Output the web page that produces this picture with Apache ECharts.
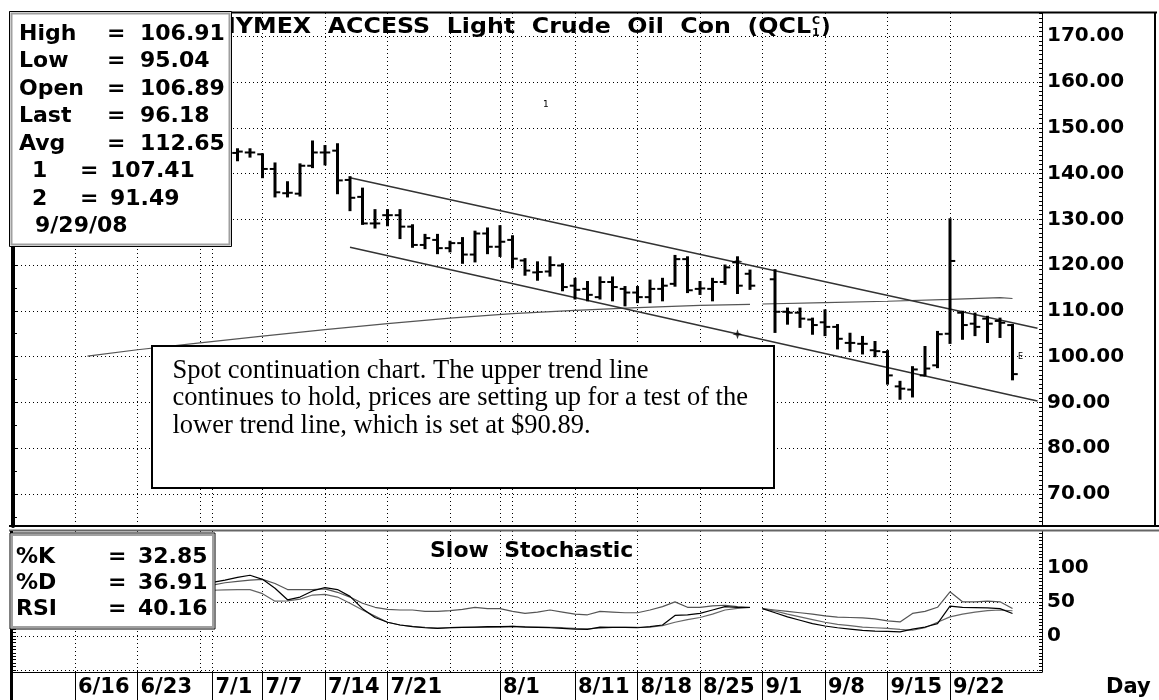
<!DOCTYPE html>
<html>
<head>
<meta charset="utf-8">
<script src="https://cdn.jsdelivr.net/npm/echarts@6/dist/echarts.min.js"></script>
<style>
html, body { margin: 0; padding: 0; background: #fff; }
#main { width: 1159px; height: 700px; }
</style>
</head>
<body>
<div id="main"></div>
<script>
// daily bars (the ones left of 7/3 sit under the info box)
var barDays = ['7/3','7/4','7/7','7/8','7/9','7/10','7/11','7/14','7/15','7/16','7/17','7/18',
  '7/21','7/22','7/23','7/24','7/25','7/28','7/29','7/30','7/31','8/1','8/4','8/5','8/6','8/7','8/8',
  '8/11','8/12','8/13','8/14','8/15','8/18','8/19','8/20','8/21','8/22','8/25','8/26','8/27','8/28','8/29',
  '9/2','9/3','9/4','9/5','9/8','9/9','9/10','9/11','9/12','9/15','9/16','9/17','9/18','9/19',
  '9/22','9/23','9/24','9/25','9/26','9/29'];
var barOpen = [144.5,144.6,144.2,141.0,135.7,135.6,141.7,144.6,145.0,138.6,134.9,129.1,
  130.9,130.9,128.4,124.4,125.5,123.7,124.8,122.3,126.9,124.0,125.5,121.0,118.4,118.6,119.9,
  115.5,114.8,113.0,116.3,114.8,114.0,113.0,114.8,115.9,121.3,114.8,114.8,116.3,120.6,118.1,
  116.9,109.8,109.6,108.1,107.5,106.5,103.0,102.8,101.4,101.0,93.5,92.8,95.9,98.1,
  105.0,109.6,107.2,108.3,107.8,106.89];
var barHigh = [145.3,145.3,144.2,142.2,138.1,142.0,147.0,146.0,146.4,139.2,136.7,132.0,
  132.0,132.0,128.7,126.6,126.6,125.1,125.9,127.3,128.0,128.5,126.3,121.3,120.6,121.7,120.2,
  117.0,116.3,117.3,117.3,115.2,115.2,116.6,117.0,122.0,121.7,116.3,117.0,119.9,121.7,118.8,
  118.9,110.5,110.5,108.3,110.1,106.9,105.0,104.3,103.2,101.2,94.5,97.7,102.1,105.4,
  130.0,109.8,109.4,108.7,108.3,106.91];
var barLow = [142.9,143.7,139.2,135.0,135.0,135.2,141.4,142.0,135.7,132.0,129.0,128.2,
  128.7,125.9,124.0,123.7,122.6,123.0,120.5,120.8,122.6,122.0,119.5,117.9,116.8,117.7,114.5,
  112.7,112.3,112.7,112.3,111.2,111.9,111.9,112.3,115.5,114.1,113.7,112.3,115.9,113.9,114.8,
  105.4,107.2,106.5,105.0,104.7,101.8,101.2,100.7,100.1,94.1,90.8,91.3,95.9,97.7,
  103.0,103.9,104.7,103.2,104.3,95.04];
var barClose = [144.8,144.6,141.0,135.9,135.8,141.7,144.6,144.6,138.5,134.7,129.1,129.1,
  130.9,128.4,124.4,125.9,123.7,124.8,122.3,126.9,124.0,125.1,121.4,118.8,118.5,120.0,115.2,
  114.6,113.5,116.3,115.2,114.0,113.0,114.8,115.5,121.3,114.5,114.9,116.3,119.5,115.5,115.5,
  109.8,109.6,108.3,106.9,106.5,103.9,103.0,102.8,101.2,95.9,93.0,97.2,97.4,104.9,
  120.9,106.9,106.5,107.2,107.4,96.18];

// moving average, broken at the 9/1 holiday
var maDaysA = ['6/17','6/23','6/30','7/7','7/14','7/21','7/28','8/4','8/11','8/18','8/25','8/29'];
var maA = [100.1,101.5,103.0,104.5,105.9,107.2,108.4,109.4,110.1,110.7,111.2,111.4];
var maDaysB = ['9/1','9/8','9/15','9/22','9/26','9/29'];
var maB = [111.5,111.8,112.1,112.5,112.9,112.7];

// trend lines 1 and 2
var trendDays = ['7/16','9/29','10/1'];
var trendUpper = [139.1,107.41,106.2];
var trendLower = [123.9,91.49,90.3];
var markDays = ['8/28','8/28'];
var markValues = [120.8,104.9];

// slow stochastic + RSI
var stochDaysA = ['7/1','7/2','7/3','7/4','7/7','7/8','7/9','7/10','7/11','7/14','7/15','7/16','7/17','7/18',
  '7/21','7/22','7/23','7/24','7/25','7/28','7/29','7/30','7/31','8/1','8/4','8/5','8/6','8/7','8/8',
  '8/11','8/12','8/13','8/14','8/15','8/18','8/19','8/20','8/21','8/22','8/25','8/26','8/27','8/28','8/29'];
var kA = [78.5,82,86,89,83,70,53,57,66,71,68,58,40,27,20,16,13.5,12,11,12,12.5,13,13.5,13.5,
  14,13,12.5,12,11,10,9.6,13,12.5,12.5,12,13.5,16,30,31,33,38,43,42,41.7];
var dA = [67,67.5,68,68,62,51,51.5,54,60,61,57,48,38,29,20,16,14,12.5,11.5,12,12.5,12.5,12.5,13,
  14,13.5,13,12.5,12,11,10.5,11.5,12.5,12.5,12.5,13,15,20,24,27,32,38,40.5,41.7];
var rsiA = [74.6,78,80,82,83,77,68,68,68,69,64,57,48,42,39,38,38,36,36,37,39,42,40,40,
  36,33,35,38,35,32,31,36,35,34,34,38,43,50,42,42,44,45,43,42];
var stochDaysB = ['9/1','9/2','9/3','9/4','9/5','9/8','9/9','9/10','9/11','9/12','9/15','9/16','9/17','9/18','9/19',
  '9/22','9/23','9/24','9/25','9/26','9/29'];
var kB = [40,34,28,23,18,14.5,12,10,8,7,6.5,6,10,13,18,43.6,42,41.5,41,40,32.85];
var dB = [40,36.5,32,28,24,20,17,15,13,12,11,9.5,8.3,12,20,28,32,35,37,38,36.91];
var rsiB = [40,38,36,34,32,29.5,27.5,27,26.5,25,22,20.5,33,36,42,64.7,50,50,51,50,40.16];

// axes
var gridDays = ['6/16','6/23','6/30','7/1','7/7','7/14','7/21','7/28','8/1','8/4','8/11','8/18','8/25','9/1','9/8','9/15','9/22'];
var labelDays = ['6/16','6/23','7/1','7/7','7/14','7/21','8/1','8/11','8/18','8/25','9/1','9/8','9/15','9/22'];
var priceTicks = [70,80,90,100,110,120,130,140,150,160,170];
var stochLabels = [0,50,100];
var stochGrid = [-50,0,50,100];

// info boxes
var infoNames = ['High','Low','Open','Last','Avg'];
var infoValues = ['106.91','95.04','106.89','96.18','112.65'];
var lineNames = ['1','2'];
var lineValues = ['107.41','91.49'];
var infoDate = '9/29/08';
var stochNames = ['%K','%D','RSI'];
var stochValues = ['32.85','36.91','40.16'];
var titleText = 'NYMEX  ACCESS  Light  Crude  Oil  Con  (QCL';
var noteText = 'Spot continuation chart. The upper trend line\ncontinues to hold, prices are setting up for a test of the\nlower trend line, which is set at $90.89.';

// weekday slot, 6/16/08 = 0
function slot(d) {
  var p = d.split('/');
  var days = Math.round((new Date(2008, +p[0] - 1, +p[1]) - new Date(2008, 5, 16)) / 864e5);
  return Math.floor(days / 7) * 5 + ((days % 7) + 7) % 7;
}
function pairs(days, vals) {
  return days.map(function (d, i) { return [slot(d), vals[i]]; });
}
function broken(daysA, a, daysB, b) {
  return pairs(daysA, a).concat([['-', '-']], pairs(daysB, b));
}
function range(a, b, s) { var r = []; for (var v = a; v <= b; v += s) r.push(v); return r; }

var FF = '"DejaVu Sans", sans-serif';
var bold = function (s) { return 'bold ' + s + 'px ' + FF; };
var dotted = { color: '#000', width: 1, type: [1, 3] };
var xMin = -4.96, xMax = 77.36;
var labelMap = {};
labelDays.forEach(function (d) { labelMap[slot(d)] = d; });

var bars = barDays.map(function (d, i) {
  return [slot(d), barOpen[i], barHigh[i], barLow[i], barClose[i]];
});

function renderBar(params, api) {
  var x = api.value(0);
  var hi = api.coord([x, api.value(2)]);
  var lo = api.coord([x, api.value(3)]);
  var op = api.coord([x, api.value(1)]);
  var cl = api.coord([x, api.value(4)]);
  var w = api.size([1, 0])[0] * 0.42;
  return { type: 'group', children: [
    { type: 'line', shape: { x1: hi[0], y1: hi[1] - 1, x2: lo[0], y2: lo[1] + 1 }, style: { stroke: '#000', lineWidth: 3 } },
    { type: 'line', shape: { x1: op[0] - w, y1: op[1], x2: op[0], y2: op[1] }, style: { stroke: '#000', lineWidth: 2 } },
    { type: 'line', shape: { x1: cl[0], y1: cl[1], x2: cl[0] + w, y2: cl[1] }, style: { stroke: '#000', lineWidth: 2 } }
  ] };
}

// title width, so the super/subscript land after "QCL"
var titleX = 216, titleScale = 1.13;
var ctx = document.createElement('canvas').getContext('2d');
ctx.font = bold(21);
var titleEnd = titleX + ctx.measureText(titleText).width * titleScale;

var g = [];
function txt(x, y, text, font, extra) {
  var el = { type: 'text', x: x, y: y, z: 110, style: { text: text, font: font, fill: '#000', verticalAlign: 'middle' } };
  if (extra) Object.assign(el.style, extra);
  g.push(el);
}
function hline(x1, x2, y, w, c) {
  g.push({ type: 'line', z: 90, shape: { x1: x1, y1: y, x2: x2, y2: y }, style: { stroke: c || '#000', lineWidth: w } });
}
function vline(x, y1, y2, w, c) {
  g.push({ type: 'line', z: 90, shape: { x1: x, y1: y1, x2: x, y2: y2 }, style: { stroke: c || '#000', lineWidth: w } });
}
function box(x, y, w, h) {
  g.push({ type: 'rect', z: 100, shape: { x: x, y: y, width: w, height: h }, style: { fill: '#fff', stroke: '#000', lineWidth: 1 } });
  g.push({ type: 'rect', z: 101, shape: { x: x + 2, y: y + 2, width: w - 4, height: h - 4 }, style: { fill: 'none', stroke: '#a0a0a0', lineWidth: 2 } });
}

// frame
hline(9, 1157, 12.5, 2);
vline(1155, 12, 526, 2);
hline(9, 1159, 526, 2);
hline(9, 1159, 530.5, 2, '#666');
vline(11.5, 531, 700, 3);

// title (partly hidden by the info box)
g.push({ type: 'text', x: titleX, y: 28, scaleX: titleScale, z: 50, style: { text: titleText, font: bold(21), fill: '#000', verticalAlign: 'middle' } });
g.push({ type: 'text', x: titleEnd + 1, y: 21, z: 50, style: { text: 'C', font: bold(11), fill: '#000', verticalAlign: 'middle' } });
g.push({ type: 'text', x: titleEnd + 1, y: 33, z: 50, style: { text: '1', font: bold(11), fill: '#000', verticalAlign: 'middle' } });
g.push({ type: 'text', x: titleEnd + 10, y: 28, z: 50, style: { text: ')', font: bold(21), fill: '#000', verticalAlign: 'middle' } });

// price info box
box(9.5, 11.5, 222, 235);
infoNames.forEach(function (n, i) {
  var y = 34 + i * 27.5;
  txt(19, y, n, bold(22));
  txt(107, y, '=', bold(22));
  txt(140, y, infoValues[i], bold(22));
});
lineNames.forEach(function (n, i) {
  var y = 171.5 + i * 27.5;
  txt(32, y, n, bold(22));
  txt(80, y, '=', bold(22));
  txt(110, y, lineValues[i], bold(22));
});
txt(35, 226.5, infoDate, bold(22));

// annotation
g.push({ type: 'rect', z: 100, shape: { x: 152, y: 346, width: 622, height: 142 }, style: { fill: '#fff', stroke: '#000', lineWidth: 2 } });
txt(172.5, 357, noteText, '26.5px "Liberation Serif", serif', { verticalAlign: 'top', lineHeight: 27.5 });

// small chart marks
txt(543, 105, '1', '9px ' + FF);
txt(1018, 357, 'E', '8px ' + FF);

// stochastic box
box(10, 533, 205, 96);
stochNames.forEach(function (n, i) {
  var y = 557 + i * 26;
  txt(16, y, n, bold(22));
  txt(108, y, '=', bold(22));
  txt(138, y, stochValues[i], bold(22));
});
txt(430, 551, 'Slow  Stochastic', bold(22));
txt(1106, 688, 'Day', bold(21));

var noZero = { onZero: false };
var option = {
  backgroundColor: '#fff',
  animation: false,
  graphic: { elements: g },
  grid: [
    { left: 13, top: 13, width: 1029, height: 513 },
    { left: 13, top: 531, width: 1029, height: 141 }
  ],
  xAxis: [
    { gridIndex: 0, type: 'value', min: xMin, max: xMax,
      axisLine: { show: false, onZero: false }, axisLabel: { show: false },
      axisTick: { show: false, customValues: gridDays.map(slot) },
      splitLine: { show: true, lineStyle: dotted } },
    { gridIndex: 1, type: 'value', min: xMin, max: xMax, position: 'bottom',
      axisLine: { show: false, onZero: false }, axisLabel: { show: false },
      axisTick: { show: false, customValues: gridDays.map(slot) },
      splitLine: { show: true, lineStyle: dotted } },
    { gridIndex: 1, type: 'value', min: xMin, max: xMax, position: 'bottom',
      axisLine: { show: true, onZero: false, lineStyle: { color: '#000', width: 1 } },
      axisTick: { show: true, inside: false, length: 28, customValues: labelDays.map(slot), lineStyle: { color: '#000', width: 1 } },
      axisLabel: { show: true, customValues: labelDays.map(slot), margin: 5, align: 'left', padding: [0, 0, 0, 3],
        color: '#000', fontFamily: FF, fontWeight: 'bold', fontSize: 21,
        formatter: function (v) { return labelMap[Math.round(v)] || ''; } },
      splitLine: { show: false } }
  ],
  yAxis: [
    { gridIndex: 0, type: 'value', position: 'right', min: 63, max: 175.07,
      axisLine: { show: true, onZero: false, lineStyle: { color: '#000', width: 1 } },
      axisTick: { show: true, inside: true, length: 3, customValues: range(64, 175, 1), lineStyle: { color: '#000' } },
      axisLabel: { show: true, customValues: priceTicks, margin: 5, color: '#000', fontFamily: FF, fontWeight: 'bold', fontSize: 20,
        formatter: function (v) { return v.toFixed(2); } },
      splitLine: { show: false } },
    { gridIndex: 0, type: 'value', position: 'right', min: 63, max: 175.07,
      axisLine: { show: false, onZero: false }, axisLabel: { show: false },
      axisTick: { show: false, customValues: priceTicks },
      splitLine: { show: true, lineStyle: dotted } },
    { gridIndex: 0, type: 'value', position: 'left', min: 63, max: 175.07,
      axisLine: { show: true, onZero: false, lineStyle: { color: '#000', width: 4 } },
      axisTick: { show: true, inside: true, length: 4, customValues: range(65, 175, 5), lineStyle: { color: '#000' } },
      axisLabel: { show: false }, splitLine: { show: false } },
    { gridIndex: 1, type: 'value', position: 'right', min: -53, max: 154,
      axisLine: { show: true, onZero: false, lineStyle: { color: '#000', width: 1 } },
      axisTick: { show: true, inside: true, length: 3, customValues: range(-50, 150, 5), lineStyle: { color: '#000' } },
      axisLabel: { show: true, customValues: stochLabels, margin: 5, color: '#000', fontFamily: FF, fontWeight: 'bold', fontSize: 20 },
      splitLine: { show: false } },
    { gridIndex: 1, type: 'value', position: 'right', min: -53, max: 154,
      axisLine: { show: false, onZero: false }, axisLabel: { show: false },
      axisTick: { show: false, customValues: stochGrid },
      splitLine: { show: true, lineStyle: dotted } },
    { gridIndex: 1, type: 'value', position: 'left', min: -53, max: 154,
      axisLine: { show: false, onZero: false },
      axisTick: { show: true, inside: true, length: 3, customValues: range(-50, 150, 5), lineStyle: { color: '#000' } },
      axisLabel: { show: false }, splitLine: { show: false } }
  ],
  series: [
    { name: 'MA', type: 'line', xAxisIndex: 0, yAxisIndex: 0, data: broken(maDaysA, maA, maDaysB, maB),
      symbol: 'none', connectNulls: false, lineStyle: { color: '#555', width: 1.2 }, z: 3 },
    { name: 'Trend 1', type: 'line', xAxisIndex: 0, yAxisIndex: 0, data: pairs(trendDays, trendUpper),
      symbol: 'none', lineStyle: { color: '#333', width: 1.5 }, z: 3 },
    { name: 'Trend 2', type: 'line', xAxisIndex: 0, yAxisIndex: 0, data: pairs(trendDays, trendLower),
      symbol: 'none', lineStyle: { color: '#333', width: 1.5 }, z: 3 },
    { name: 'Marks', type: 'scatter', xAxisIndex: 0, yAxisIndex: 0, data: pairs(markDays, markValues),
      symbol: 'path://M4,0 L5,3 L8,4 L5,5 L4,8 L3,5 L0,4 L3,3 Z', symbolSize: 10, itemStyle: { color: '#000' }, z: 5 },
    { name: 'QCL', type: 'custom', xAxisIndex: 0, yAxisIndex: 0, data: bars, renderItem: renderBar,
      encode: { x: 0, y: [1, 2, 3, 4] }, clip: true, z: 4 },
    { name: 'RSI', type: 'line', xAxisIndex: 1, yAxisIndex: 3, data: broken(stochDaysA, rsiA, stochDaysB, rsiB),
      symbol: 'none', lineStyle: { color: '#555', width: 1.2 } },
    { name: '%D', type: 'line', xAxisIndex: 1, yAxisIndex: 3, data: broken(stochDaysA, dA, stochDaysB, dB),
      symbol: 'none', lineStyle: { color: '#666', width: 1.2 } },
    { name: '%K', type: 'line', xAxisIndex: 1, yAxisIndex: 3, data: broken(stochDaysA, kA, stochDaysB, kB),
      symbol: 'none', lineStyle: { color: '#000', width: 1.2 } }
  ]
};

var chart = echarts.init(document.getElementById('main'));
chart.setOption(option);
</script>
</body>
</html>
